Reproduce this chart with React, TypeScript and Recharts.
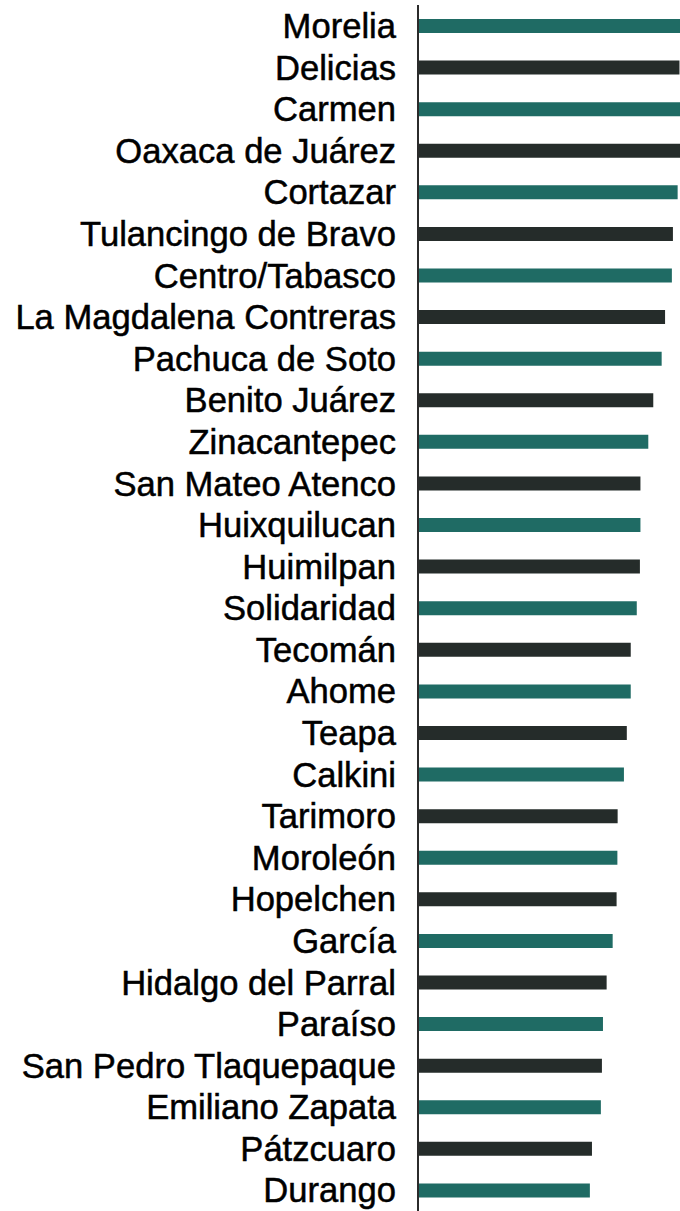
import React from 'react';
import { BarChart, Bar, XAxis, YAxis, Cell } from 'recharts';

const categories = [
  'Morelia', 'Delicias', 'Carmen', 'Oaxaca de Juárez', 'Cortazar',
  'Tulancingo de Bravo', 'Centro/Tabasco', 'La Magdalena Contreras', 'Pachuca de Soto', 'Benito Juárez',
  'Zinacantepec', 'San Mateo Atenco', 'Huixquilucan', 'Huimilpan', 'Solidaridad',
  'Tecomán', 'Ahome', 'Teapa', 'Calkini', 'Tarimoro',
  'Moroleón', 'Hopelchen', 'García', 'Hidalgo del Parral', 'Paraíso',
  'San Pedro Tlaquepaque', 'Emiliano Zapata', 'Pátzcuaro', 'Durango',
];

const values = [
  103, 99.8, 102, 101, 99.1,
  97.3, 96.9, 94.3, 93.0, 89.8,
  87.9, 84.9, 84.9, 84.7, 83.5,
  81.2, 81.2, 79.7, 78.6, 76.2,
  76.1, 75.8, 74.3, 72.0, 70.6,
  70.2, 69.8, 66.4, 65.6,
];

const data = categories.map((name, i) => ({ name, value: values[i] }));

const TEAL = '#1f6b64';
const DARK = '#252c2a';

export default function App() {
  return (
    <div style={{ position: 'absolute', left: 0, top: 0, width: 680, height: 1211, background: '#fff', overflow: 'hidden' }}>
      <BarChart
        width={680}
        height={1211}
        data={data}
        layout="vertical"
        margin={{ top: 5, right: 0, bottom: 0, left: 0 }}
        barCategoryGap={0}
      >
        <XAxis type="number" hide domain={[0, 100]} allowDataOverflow />
        <YAxis
          type="category"
          dataKey="name"
          width={418}
          interval={0}
          tickLine={false}
          tickSize={0}
          tickMargin={22}
          axisLine={{ stroke: '#2b2b2b', strokeWidth: 2 }}
          tick={{ fontSize: 34.6, fill: '#000', stroke: '#000', strokeWidth: 0.5, fontFamily: '"Liberation Sans", Arial, sans-serif' }}
        />
        <Bar dataKey="value" barSize={14} isAnimationActive={false}>
          {data.map((d, i) => (
            <Cell key={d.name} fill={i % 2 === 0 ? TEAL : DARK} />
          ))}
        </Bar>
      </BarChart>
    </div>
  );
}
